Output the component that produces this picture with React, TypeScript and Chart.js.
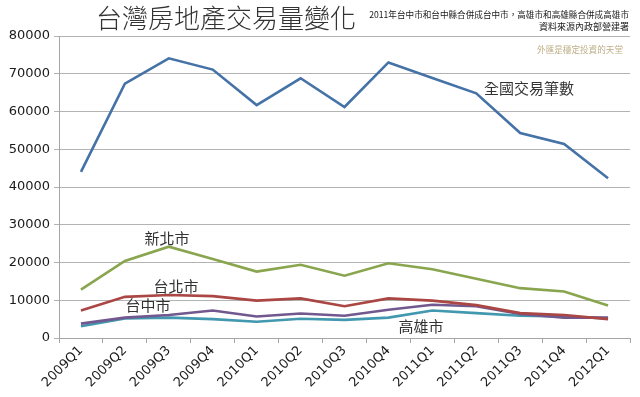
import React, { useEffect, useRef } from "react";
import { Chart, registerables } from "chart.js";

Chart.register(...registerables);

const quarters = [
  "2009Q1", "2009Q2", "2009Q3", "2009Q4",
  "2010Q1", "2010Q2", "2010Q3", "2010Q4",
  "2011Q1", "2011Q2", "2011Q3", "2011Q4",
  "2012Q1",
];

const nationwide = [44000, 67400, 74100, 71100, 61700, 68800, 61200, 73000, 68900, 64800, 54300, 51400, 42300];
const newTaipei = [12800, 20400, 24200, 20900, 17600, 19400, 16500, 19800, 18200, 15700, 13200, 12300, 8600];
const taipei = [7300, 10900, 11400, 11100, 9900, 10500, 8400, 10500, 9900, 8700, 6600, 6100, 5000];
const taichung = [3800, 5400, 6100, 7300, 5700, 6500, 5900, 7500, 8800, 8400, 6400, 5400, 5400];
const kaohsiung = [3100, 5200, 5400, 5000, 4300, 5100, 4800, 5400, 7300, 6600, 5900, 5700, 5200];

const yTicks = [0, 10000, 20000, 30000, 40000, 50000, 60000, 70000, 80000];

const titleText = "台灣房地產交易量變化";
const noteLine1 = "2011年台中市和台中縣合併成台中市，高雄市和高雄縣合併成高雄市";
const noteLine2 = "資料來源內政部營建署";
const noteLine3 = "外匯是穩定投資的天堂";

const seriesLabels = [
  { text: "全國交易筆數", x: 529, y: 88 },
  { text: "新北市", x: 167, y: 238 },
  { text: "台北市", x: 176, y: 286 },
  { text: "台中市", x: 148, y: 305 },
  { text: "高雄市", x: 421, y: 326 },
];

const CJK = "'Noto Sans CJK TC', 'Noto Sans', sans-serif";

const textPlugin = {
  id: "textPlugin",
  afterDraw(chart: any) {
    const ctx = chart.ctx;
    ctx.save();
    ctx.textBaseline = "middle";
    // title
    ctx.fillStyle = "#333333";
    ctx.font = `300 26px ${CJK}`;
    ctx.textAlign = "center";
    ctx.fillText(titleText, 226, 18);
    // notes
    ctx.fillStyle = "#1a1a1a";
    ctx.font = `8.6px ${CJK}`;
    ctx.textAlign = "right";
    ctx.fillText(noteLine1, 629, 15);
    ctx.font = `9px ${CJK}`;
    ctx.fillText(noteLine2, 629, 27);
    ctx.fillStyle = "#bcae86";
    ctx.font = `8.6px ${CJK}`;
    ctx.fillText(noteLine3, 623, 50);
    // series labels
    ctx.fillStyle = "#333333";
    ctx.font = `15px ${CJK}`;
    ctx.textAlign = "center";
    for (const l of seriesLabels) {
      ctx.fillText(l.text, l.x, l.y);
    }
    ctx.restore();
  },
};

export default function App() {
  const ref = useRef<HTMLCanvasElement | null>(null);

  useEffect(() => {
    document.body.style.margin = "0";
    const canvas = ref.current;
    if (!canvas) return;
    const mk = (label: string, data: number[], color: string) => ({
      label,
      data,
      borderColor: color,
      backgroundColor: color,
      borderWidth: 2.6,
      pointRadius: 0,
      pointHoverRadius: 0,
      tension: 0,
      fill: false,
    });
    const chart = new Chart(canvas, {
      type: "line",
      data: {
        labels: quarters,
        datasets: [
          mk("全國交易筆數", nationwide, "#4572a7"),
          mk("台北市", taipei, "#aa4643"),
          mk("新北市", newTaipei, "#89a54e"),
          mk("台中市", taichung, "#71588f"),
          mk("高雄市", kaohsiung, "#4198af"),
        ],
      },
      options: {
        responsive: false,
        animation: false,
        events: [],
        layout: { padding: { top: 36, right: 10, left: 0, bottom: 0 } },
        plugins: {
          legend: { display: false },
          tooltip: { enabled: false },
          title: { display: false },
        },
        scales: {
          x: {
            type: "category",
            offset: true,
            grid: {
              display: true,
              offset: true,
              drawOnChartArea: false,
              drawTicks: true,
              tickLength: 5,
              color: "#a6a6a6",
            },
            border: { color: "#a6a6a6" },
            ticks: {
              autoSkip: false,
              minRotation: 45,
              maxRotation: 45,
              padding: 0,
              color: "#1a1a1a",
              font: { family: "'DejaVu Sans', sans-serif", size: 13 },
            },
            afterFit(scale: any) {
              scale.height = 59;
            },
          },
          y: {
            min: 0,
            max: 80000,
            afterBuildTicks(scale: any) {
              scale.ticks = yTicks.map((v) => ({ value: v }));
            },
            grid: {
              color: "#b3b3b3",
              tickLength: 5,
              drawTicks: true,
            },
            border: { color: "#a6a6a6" },
            ticks: {
              padding: 4,
              color: "#1a1a1a",
              font: { family: "'DejaVu Sans', sans-serif", size: 13 },
              callback: (v: any) => String(v),
            },
            afterFit(scale: any) {
              scale.width = 59;
            },
          },
        },
      },
      plugins: [textPlugin],
    });
    return () => chart.destroy();
  }, []);

  return (
    <div style={{ width: 640, height: 397, background: "#ffffff" }}>
      <canvas ref={ref} width={640} height={397} style={{ display: "block" }} />
    </div>
  );
}
